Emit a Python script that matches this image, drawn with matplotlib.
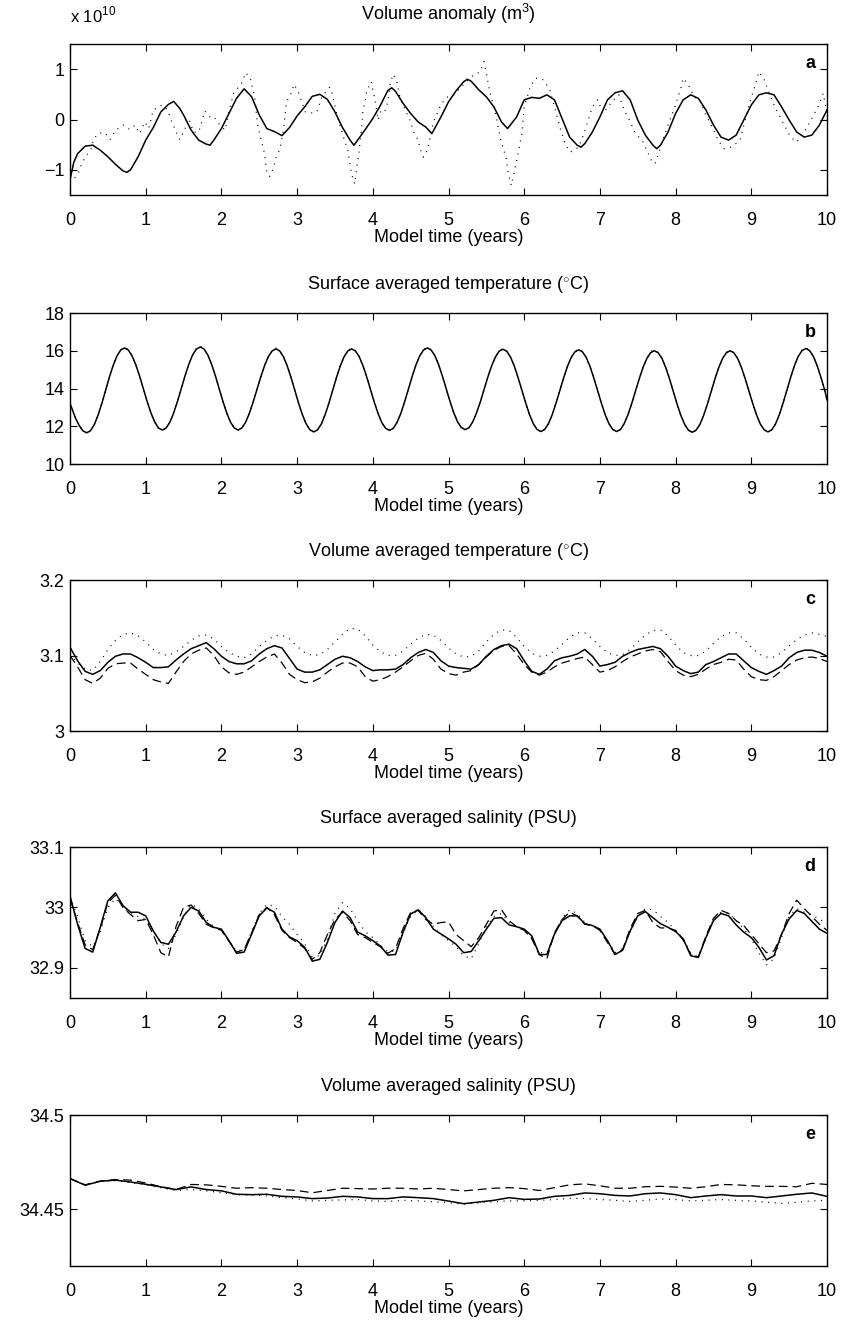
import numpy as np
import matplotlib
matplotlib.use('Agg')
import matplotlib.pyplot as plt

plt.rcParams['font.family'] = ['Liberation Sans Narrow', 'Liberation Sans', 'DejaVu Sans']
plt.rcParams['mathtext.fontset'] = 'custom'
plt.rcParams['mathtext.rm'] = 'Liberation Sans'

# ---- panel a : volume anomaly (units of 1e10 m^3) ----
a_solid_t = [0.0, 0.05, 0.1, 0.2, 0.3, 0.4, 0.5, 0.6, 0.7, 0.75, 0.8, 0.9,
             1.0, 1.1, 1.2, 1.3, 1.37, 1.45, 1.5, 1.6, 1.7, 1.8, 1.85, 1.9,
             2.0, 2.1, 2.2, 2.3, 2.4, 2.5, 2.6, 2.7, 2.8, 2.9,
             3.0, 3.1, 3.2, 3.3, 3.4, 3.5, 3.6, 3.7, 3.75, 3.8, 3.9,
             4.0, 4.1, 4.2, 4.25, 4.3, 4.4, 4.5, 4.6, 4.7, 4.78, 4.9,
             5.0, 5.1, 5.2, 5.25, 5.3, 5.4, 5.5, 5.6, 5.7, 5.78, 5.9,
             6.0, 6.1, 6.2, 6.3, 6.4, 6.5, 6.6, 6.7, 6.75, 6.8, 6.9,
             7.0, 7.1, 7.2, 7.3, 7.4, 7.5, 7.6, 7.7, 7.75, 7.8, 7.9,
             8.0, 8.1, 8.2, 8.3, 8.4, 8.5, 8.6, 8.7, 8.8, 8.9,
             9.0, 9.1, 9.2, 9.3, 9.4, 9.5, 9.6, 9.7, 9.8, 9.9, 10.0]
a_solid = [-1.2, -0.85, -0.68, -0.53, -0.51, -0.61, -0.74, -0.89, -1.02, -1.05, -1.0, -0.74,
           -0.41, -0.16, 0.15, 0.3, 0.36, 0.22, 0.09, -0.21, -0.41, -0.49, -0.51, -0.41,
           -0.18, 0.12, 0.42, 0.61, 0.45, 0.09, -0.18, -0.24, -0.32, -0.16,
           0.07, 0.25, 0.46, 0.50, 0.40, 0.15, -0.16, -0.41, -0.51, -0.41, -0.20,
           0.02, 0.28, 0.58, 0.63, 0.56, 0.32, 0.12, -0.05, -0.15, -0.28, 0.05,
           0.35, 0.57, 0.75, 0.80, 0.76, 0.59, 0.45, 0.25, -0.05, -0.18, 0.05,
           0.39, 0.44, 0.42, 0.49, 0.39, 0.02, -0.35, -0.51, -0.55, -0.48, -0.25,
           0.05, 0.39, 0.53, 0.57, 0.39, -0.01, -0.31, -0.51, -0.58, -0.51, -0.25,
           0.12, 0.39, 0.49, 0.42, 0.19, -0.11, -0.35, -0.41, -0.31, -0.01,
           0.29, 0.49, 0.53, 0.49, 0.25, -0.01, -0.25, -0.35, -0.31, -0.11, 0.19]

a_dot_t = [0.0, 0.04, 0.11, 0.15, 0.2, 0.28, 0.31, 0.37, 0.46, 0.53, 0.6, 0.7, 0.79, 0.86, 0.92, 0.99,
           1.04, 1.1, 1.21, 1.26, 1.31, 1.35, 1.45, 1.51, 1.57, 1.63, 1.7, 1.74, 1.78, 1.85, 1.9, 1.98,
           2.05, 2.1, 2.16, 2.28, 2.32, 2.38, 2.44, 2.48, 2.51, 2.57, 2.6, 2.64, 2.69, 2.72, 2.77, 2.82,
           2.86, 2.92, 2.96, 3.02, 3.07, 3.11, 3.19, 3.26, 3.33, 3.43, 3.46, 3.49, 3.52, 3.61, 3.67, 3.7,
           3.73, 3.76, 3.79, 3.81, 3.85, 3.87, 3.9, 3.92, 3.98, 4.0, 4.03, 4.07, 4.11, 4.16, 4.2, 4.23,
           4.27, 4.32, 4.36, 4.43, 4.49, 4.54, 4.6, 4.63, 4.67, 4.72, 4.75, 4.8, 4.86, 4.9, 4.98,
           5.08, 5.15, 5.3, 5.42, 5.47, 5.5, 5.54, 5.63, 5.69, 5.76, 5.79, 5.83, 5.9, 5.97,
           6.0, 6.08, 6.15, 6.24, 6.33, 6.4, 6.47, 6.54, 6.61, 6.72, 6.79, 6.9, 6.97,
           7.04, 7.18, 7.25, 7.32, 7.39, 7.46, 7.57, 7.68, 7.73, 7.8, 7.89, 7.99,
           8.07, 8.1, 8.17, 8.24, 8.32, 8.39, 8.46, 8.56, 8.64, 8.74, 8.85, 8.92, 8.99,
           9.06, 9.1, 9.17, 9.24, 9.31, 9.38, 9.45, 9.52, 9.6, 9.67, 9.74, 9.81, 9.88, 9.95, 10.0]
a_dot = [-1.25, -1.2, -1.07, -0.9, -0.75, -0.58, -0.4, -0.28, -0.26, -0.4, -0.22, -0.11, -0.2, -0.11, -0.28, -0.05,
         -0.18, 0.19, 0.28, 0.25, 0.1, -0.07, -0.4, -0.22, 0.02, -0.25, -0.25, -0.05, 0.17, 0.05, 0.06, -0.11,
         -0.21, 0.15, 0.52, 0.75, 0.93, 0.83, 0.44, -0.13, -0.31, -0.68, -1.06, -1.13, -0.95, -0.77, -0.6, -0.21,
         0.35, 0.52, 0.7, 0.53, 0.32, 0.15, 0.13, 0.15, 0.46, 0.64, 0.53, 0.33, 0.13, -0.34, -0.61, -0.91,
         -1.13, -1.28, -0.94, -0.75, -0.21, 0.19, 0.37, 0.57, 0.75, 0.58, 0.38, -0.01, 0.19, 0.17, 0.35, 0.72,
         0.9, 0.73, 0.42, 0.19, -0.01, -0.25, -0.41, -0.6, -0.75, -0.61, -0.41, -0.05, 0.15, 0.3, 0.44,
         0.5, 0.62, 0.85, 0.95, 1.15, 0.92, 0.59, 0.05, -0.41, -0.75, -1.08, -1.31, -0.81, -0.28,
         0.25, 0.65, 0.82, 0.8, 0.62, 0.25, -0.15, -0.48, -0.65, -0.55, -0.28, 0.25, 0.39,
         0.12, 0.39, 0.49, 0.19, -0.01, -0.25, -0.45, -0.81, -0.88, -0.55, -0.15, 0.25,
         0.62, 0.82, 0.69, 0.45, 0.39, 0.12, -0.08, -0.41, -0.58, -0.55, -0.41, -0.01, 0.39,
         0.72, 0.95, 0.79, 0.52, 0.25, 0.05, -0.15, -0.35, -0.45, -0.31, -0.15, 0.05, 0.25, 0.52, 0.12]

# ---- panel b : surface averaged temperature, 0.05 yr sampling offset by 0.02 ----
b_t = [0.0] + [round(0.02 + 0.05 * i, 2) for i in range(200)] + [10.0]
b_solid = [13.2,
           13.0, 12.45, 12.05, 11.76, 11.65, 11.76, 12.08, 12.58, 13.2, 13.9, 14.6, 15.22, 15.72, 16.04, 16.15,
           16.04, 15.73, 15.25, 14.65, 13.98, 13.3, 12.7, 12.22, 11.9, 11.8,
           11.91, 12.22, 12.71, 13.32, 14.0, 14.68, 15.29, 15.78, 16.09, 16.2,
           16.09, 15.78, 15.29, 14.68, 14.0, 13.32, 12.71, 12.22, 11.91, 11.8,
           11.91, 12.21, 12.69, 13.29, 13.95, 14.61, 15.21, 15.69, 15.99, 16.1,
           15.99, 15.68, 15.19, 14.58, 13.9, 13.22, 12.61, 12.12, 11.81, 11.7,
           11.81, 12.12, 12.61, 13.22, 13.9, 14.58, 15.19, 15.68, 15.99, 16.1,
           15.99, 15.69, 15.21, 14.61, 13.94, 13.27, 12.67, 12.19, 11.89, 11.78,
           11.89, 12.2, 12.68, 13.29, 13.97, 14.64, 15.25, 15.73, 16.04, 16.15,
           16.04, 15.74, 15.26, 14.65, 13.99, 13.32, 12.71, 12.23, 11.93, 11.82,
           11.92, 12.23, 12.7, 13.29, 13.95, 14.61, 15.2, 15.67, 15.98, 16.08,
           15.97, 15.66, 15.18, 14.57, 13.9, 13.23, 12.62, 12.14, 11.83, 11.72,
           11.83, 12.13, 12.61, 13.22, 13.89, 14.55, 15.16, 15.64, 15.94, 16.05,
           15.94, 15.64, 15.16, 14.55, 13.89, 13.22, 12.61, 12.13, 11.83, 11.72,
           11.82, 12.13, 12.6, 13.2, 13.86, 14.52, 15.12, 15.59, 15.9, 16.0,
           15.89, 15.59, 15.11, 14.51, 13.84, 13.17, 12.57, 12.09, 11.79, 11.68,
           11.79, 12.09, 12.57, 13.17, 13.84, 14.51, 15.11, 15.59, 15.89, 16.0,
           15.89, 15.59, 15.11, 14.51, 13.85, 13.19, 12.59, 12.11, 11.81, 11.7,
           11.81, 12.12, 12.61, 13.23, 13.91, 14.59, 15.21, 15.7, 16.01, 16.12,
           16.01, 15.7, 15.21, 14.59, 13.91,
           13.4]
b_dot = [13.2,
         13.0, 12.45, 12.05, 11.76, 11.66, 11.76, 12.08, 12.58, 13.2, 13.9, 14.6, 15.22, 15.72, 16.06, 16.18,
         16.06, 15.73, 15.25, 14.65, 13.98, 13.3, 12.7, 12.22, 11.9, 11.8,
         11.91, 12.22, 12.71, 13.32, 14.0, 14.68, 15.29, 15.78, 16.12, 16.24,
         16.11, 15.78, 15.29, 14.68, 14.0, 13.32, 12.71, 12.22, 11.91, 11.8,
         11.91, 12.21, 12.69, 13.29, 13.95, 14.61, 15.21, 15.69, 16.02, 16.14,
         16.0, 15.68, 15.19, 14.58, 13.9, 13.22, 12.61, 12.12, 11.81, 11.7,
         11.81, 12.12, 12.61, 13.22, 13.9, 14.58, 15.19, 15.68, 16.02, 16.13,
         16.0, 15.69, 15.21, 14.61, 13.94, 13.27, 12.67, 12.19, 11.89, 11.78,
         11.89, 12.2, 12.68, 13.29, 13.97, 14.64, 15.25, 15.73, 16.07, 16.18,
         16.05, 15.74, 15.26, 14.65, 13.99, 13.32, 12.71, 12.23, 11.93, 11.82,
         11.92, 12.23, 12.7, 13.29, 13.95, 14.61, 15.2, 15.67, 16.01, 16.12,
         15.98, 15.66, 15.18, 14.57, 13.9, 13.23, 12.62, 12.14, 11.83, 11.72,
         11.83, 12.13, 12.61, 13.22, 13.89, 14.55, 15.16, 15.64, 15.98, 16.1,
         15.95, 15.64, 15.16, 14.55, 13.89, 13.22, 12.61, 12.13, 11.83, 11.72,
         11.82, 12.13, 12.6, 13.2, 13.86, 14.52, 15.12, 15.59, 15.95, 16.08,
         15.9, 15.59, 15.11, 14.51, 13.84, 13.17, 12.57, 12.09, 11.79, 11.68,
         11.79, 12.09, 12.57, 13.17, 13.84, 14.51, 15.11, 15.59, 15.93, 16.04,
         15.9, 15.59, 15.11, 14.51, 13.85, 13.19, 12.59, 12.11, 11.81, 11.7,
         11.81, 12.12, 12.61, 13.23, 13.91, 14.59, 15.21, 15.7, 16.04, 16.16,
         16.02, 15.7, 15.21, 14.59, 13.91,
         13.4]

# ---- panels c, d : 0.1 year sampling ----
t01 = np.linspace(0, 10, 101)
c_solid = [3.111, 3.093, 3.079, 3.075, 3.080, 3.091, 3.099, 3.102, 3.102, 3.097,
           3.091, 3.084, 3.084, 3.085, 3.094, 3.102, 3.109, 3.113, 3.117, 3.109,
           3.099, 3.092, 3.089, 3.089, 3.093, 3.102, 3.109, 3.113, 3.110, 3.096,
           3.082, 3.078, 3.078, 3.081, 3.088, 3.095, 3.099, 3.097, 3.092, 3.085,
           3.080, 3.081, 3.081, 3.082, 3.088, 3.097, 3.104, 3.108, 3.104, 3.093,
           3.086, 3.084, 3.083, 3.082, 3.088, 3.099, 3.108, 3.113, 3.115, 3.109,
           3.093, 3.079, 3.075, 3.082, 3.093, 3.097, 3.099, 3.102, 3.108, 3.099,
           3.086, 3.088, 3.091, 3.099, 3.104, 3.108, 3.110, 3.112, 3.109, 3.099,
           3.086, 3.080, 3.076, 3.078, 3.088, 3.092, 3.097, 3.102, 3.102, 3.093,
           3.084, 3.079, 3.075, 3.080, 3.086, 3.097, 3.104, 3.107, 3.107, 3.104,
           3.099]
c_dash = [3.100, 3.085, 3.068, 3.063, 3.070, 3.083, 3.089, 3.090, 3.090, 3.082,
          3.075, 3.068, 3.065, 3.063, 3.078, 3.092, 3.102, 3.107, 3.110, 3.100,
          3.085, 3.077, 3.075, 3.078, 3.085, 3.092, 3.098, 3.102, 3.090, 3.075,
          3.068, 3.064, 3.065, 3.070, 3.078, 3.085, 3.090, 3.090, 3.085, 3.072,
          3.066, 3.068, 3.072, 3.078, 3.085, 3.093, 3.100, 3.103, 3.095, 3.082,
          3.076, 3.074, 3.078, 3.080, 3.088, 3.098, 3.107, 3.112, 3.113, 3.102,
          3.088, 3.078, 3.074, 3.078, 3.085, 3.090, 3.093, 3.096, 3.098, 3.088,
          3.078, 3.080, 3.085, 3.092, 3.098, 3.102, 3.106, 3.108, 3.105, 3.092,
          3.080, 3.074, 3.072, 3.075, 3.082, 3.088, 3.091, 3.095, 3.094, 3.082,
          3.072, 3.068, 3.067, 3.072, 3.080, 3.088, 3.094, 3.097, 3.098, 3.096,
          3.092]
c_dot = [3.102, 3.090, 3.082, 3.080, 3.092, 3.108, 3.120, 3.128, 3.130, 3.126,
         3.118, 3.108, 3.102, 3.100, 3.105, 3.112, 3.120, 3.126, 3.127, 3.122,
         3.112, 3.104, 3.099, 3.097, 3.102, 3.112, 3.120, 3.126, 3.127, 3.122,
         3.112, 3.104, 3.100, 3.101, 3.108, 3.118, 3.128, 3.136, 3.135, 3.126,
         3.114, 3.105, 3.100, 3.100, 3.106, 3.115, 3.123, 3.128, 3.127, 3.120,
         3.110, 3.102, 3.098, 3.099, 3.106, 3.118, 3.128, 3.134, 3.133, 3.124,
         3.112, 3.103, 3.099, 3.100, 3.106, 3.115, 3.124, 3.130, 3.130, 3.122,
         3.112, 3.104, 3.100, 3.101, 3.108, 3.118, 3.127, 3.133, 3.134, 3.126,
         3.114, 3.104, 3.100, 3.100, 3.106, 3.116, 3.125, 3.130, 3.130, 3.122,
         3.111, 3.102, 3.098, 3.098, 3.104, 3.113, 3.121, 3.127, 3.130, 3.128,
         3.125]

d_solid = [33.019, 32.972, 32.932, 32.926, 32.967, 33.011, 33.024, 33.003, 32.992, 32.992,
           32.986, 32.961, 32.942, 32.939, 32.959, 32.986, 33.000, 32.994, 32.975, 32.967,
           32.964, 32.945, 32.924, 32.926, 32.956, 32.986, 32.999, 32.992, 32.964, 32.951,
           32.945, 32.934, 32.911, 32.914, 32.942, 32.975, 32.994, 32.983, 32.959, 32.953,
           32.945, 32.936, 32.921, 32.922, 32.959, 32.989, 32.996, 32.983, 32.964, 32.956,
           32.948, 32.939, 32.925, 32.927, 32.945, 32.964, 32.982, 32.983, 32.971, 32.968,
           32.964, 32.953, 32.922, 32.922, 32.956, 32.978, 32.986, 32.986, 32.973, 32.970,
           32.964, 32.945, 32.922, 32.929, 32.961, 32.986, 32.993, 32.983, 32.973, 32.967,
           32.960, 32.948, 32.920, 32.917, 32.950, 32.978, 32.990, 32.986, 32.971, 32.959,
           32.950, 32.934, 32.913, 32.920, 32.956, 32.981, 32.995, 32.990, 32.977, 32.964,
           32.957]
d_dash = [33.015, 32.975, 32.938, 32.930, 32.965, 33.008, 33.020, 33.000, 32.988, 32.978,
          32.980, 32.955, 32.925, 32.918, 32.968, 33.000, 33.004, 32.990, 32.972, 32.966,
          32.962, 32.944, 32.926, 32.930, 32.958, 32.988, 33.000, 32.988, 32.962, 32.950,
          32.942, 32.932, 32.914, 32.925, 32.955, 32.980, 32.992, 32.978, 32.955, 32.950,
          32.942, 32.935, 32.924, 32.932, 32.965, 32.992, 32.995, 32.980, 32.972, 32.975,
          32.976, 32.955, 32.945, 32.935, 32.950, 32.972, 32.994, 32.996, 32.978, 32.968,
          32.962, 32.948, 32.922, 32.915, 32.958, 32.980, 32.992, 32.986, 32.972, 32.970,
          32.962, 32.942, 32.922, 32.930, 32.965, 32.990, 32.995, 32.975, 32.966, 32.966,
          32.962, 32.946, 32.922, 32.918, 32.952, 32.982, 32.995, 32.990, 32.978, 32.970,
          32.955, 32.940, 32.925, 32.928, 32.955, 32.990, 33.012, 32.998, 32.985, 32.972,
          32.962]
d_dot = [33.018, 32.985, 32.945, 32.935, 32.960, 33.000, 33.015, 33.000, 32.990, 32.985,
         32.980, 32.962, 32.940, 32.932, 32.955, 32.985, 33.005, 32.998, 32.980, 32.968,
         32.962, 32.945, 32.928, 32.930, 32.960, 32.990, 33.005, 33.002, 32.985, 32.972,
         32.955, 32.940, 32.918, 32.920, 32.948, 32.990, 33.008, 32.998, 32.978, 32.960,
         32.950, 32.938, 32.926, 32.928, 32.958, 32.985, 32.996, 32.985, 32.968, 32.955,
         32.945, 32.935, 32.920, 32.915, 32.940, 32.968, 32.985, 32.990, 32.975, 32.968,
         32.962, 32.950, 32.925, 32.925, 32.955, 32.982, 32.996, 32.990, 32.975, 32.970,
         32.962, 32.945, 32.925, 32.932, 32.960, 32.985, 32.998, 32.996, 32.985, 32.975,
         32.962, 32.948, 32.925, 32.918, 32.948, 32.980, 32.992, 32.990, 32.978, 32.965,
         32.948, 32.925, 32.905, 32.915, 32.950, 32.985, 32.998, 32.992, 32.988, 32.980,
         32.975]

# ---- panel e : volume averaged salinity, 0.2 year sampling ----
t02 = np.linspace(0, 10, 51)
e_solid = [34.4663, 34.4628, 34.4649, 34.4655, 34.4645, 34.4633, 34.4619, 34.4605, 34.4619, 34.4605,
           34.4598, 34.4580, 34.4578, 34.4580, 34.4569, 34.4566, 34.4557, 34.4560, 34.4569, 34.4566,
           34.4557, 34.4557, 34.4566, 34.4562, 34.4557, 34.4544, 34.4530, 34.4539, 34.4548, 34.4562,
           34.4553, 34.4555, 34.4569, 34.4574, 34.4587, 34.4583, 34.4574, 34.4571, 34.4583, 34.4587,
           34.4578, 34.4562, 34.4571, 34.4578, 34.4571, 34.4571, 34.4562, 34.4571, 34.4580, 34.4587,
           34.4569]
e_dash = [34.4663, 34.4630, 34.4650, 34.4658, 34.4655, 34.4640, 34.4620, 34.4605, 34.4632, 34.4630,
          34.4622, 34.4612, 34.4615, 34.4612, 34.4605, 34.4600, 34.4588, 34.4600, 34.4612, 34.4610,
          34.4608, 34.4612, 34.4612, 34.4608, 34.4612, 34.4605, 34.4598, 34.4605, 34.4612, 34.4615,
          34.4610, 34.4600, 34.4615, 34.4630, 34.4635, 34.4625, 34.4612, 34.4612, 34.4620, 34.4622,
          34.4618, 34.4612, 34.4620, 34.4632, 34.4630, 34.4625, 34.4622, 34.4622, 34.4620, 34.4638,
          34.4632]
e_dot = [34.4663, 34.4628, 34.4648, 34.4652, 34.4642, 34.4630, 34.4615, 34.4600, 34.4605, 34.4598,
         34.4588, 34.4578, 34.4575, 34.4572, 34.4562, 34.4555, 34.4545, 34.4548, 34.4550, 34.4552,
         34.4545, 34.4542, 34.4548, 34.4545, 34.4540, 34.4535, 34.4528, 34.4535, 34.4540, 34.4545,
         34.4545, 34.4548, 34.4552, 34.4558, 34.4558, 34.4552, 34.4548, 34.4542, 34.4548, 34.4555,
         34.4552, 34.4545, 34.4548, 34.4552, 34.4548, 34.4545, 34.4538, 34.4532, 34.4538, 34.4545,
         34.4548]

titles = ['Volume anomaly (m$^{3}$)',
          'Surface averaged temperature ($^{\\circ}$C)',
          'Volume averaged temperature ($^{\\circ}$C)',
          'Surface averaged salinity (PSU)',
          'Volume averaged salinity (PSU)']
letters = ['a', 'b', 'c', 'd', 'e']
ylims = [(-1.5, 1.5), (10, 18), (3.0, 3.2), (32.85, 33.1), (34.42, 34.5)]
yticks = [[-1, 0, 1], [10, 12, 14, 16, 18], [3.0, 3.1, 3.2], [32.9, 33.0, 33.1], [34.45, 34.5]]
yticklabels = [['\u22121', '0', '1'], ['10', '12', '14', '16', '18'], ['3', '3.1', '3.2'],
               ['32.9', '33', '33.1'], ['34.45', '34.5']]

fig = plt.figure(figsize=(8.43, 13.23), dpi=100)
W, H = 843.0, 1323.0
tops = [44, 313, 580, 847, 1115]
axes = []
for top in tops:
    ax = fig.add_axes([70 / W, 1 - (top + 151) / H, 757 / W, 151 / H])
    axes.append(ax)

dot_style = dict(color='k', lw=0.9, linestyle=(0, (0.8, 4.5)))
dash_style = dict(color='k', lw=0.9, linestyle=(0, (7, 4)))
solid_style = dict(color='k', lw=1.1)

axes[0].plot(a_dot_t, a_dot, **dot_style)
axes[0].plot(a_solid_t, a_solid, **solid_style)

axes[1].plot(b_t, b_dot, **dot_style)
axes[1].plot(b_t, b_solid, **solid_style)

axes[2].plot(t01, c_dot, **dot_style)
axes[2].plot(t01, c_dash, **dash_style)
axes[2].plot(t01, c_solid, **solid_style)

axes[3].plot(t01, d_dot, **dot_style)
axes[3].plot(t01, d_dash, **dash_style)
axes[3].plot(t01, d_solid, **solid_style)

axes[4].plot(t02, e_dot, **dot_style)
axes[4].plot(t02, e_dash, **dash_style)
axes[4].plot(t02, e_solid, **solid_style)

for i, ax in enumerate(axes):
    ax.set_xlim(0, 10)
    ax.set_ylim(*ylims[i])
    ax.set_xticks(range(11))
    ax.set_yticks(yticks[i])
    ax.set_yticklabels(yticklabels[i])
    ax.tick_params(direction='in', top=True, right=True, length=5, width=0.8,
                   labelsize=13)
    ax.tick_params(axis='x', pad=12)
    ax.tick_params(axis='y', pad=4)
    for s in ax.spines.values():
        s.set_linewidth(1.0)
    ax.set_title(titles[i], fontsize=13, pad=17)
    ax.set_xlabel('Model time (years)', fontsize=13, labelpad=0)
    ax.text(0.985, 0.93, letters[i], transform=ax.transAxes, ha='right', va='top',
            fontsize=13, fontweight='bold')

axes[0].text(0.0, 1.12, 'x 10$^{10}$', transform=axes[0].transAxes, ha='left', va='bottom',
             fontsize=12)

fig.savefig('out.png', dpi=100)
